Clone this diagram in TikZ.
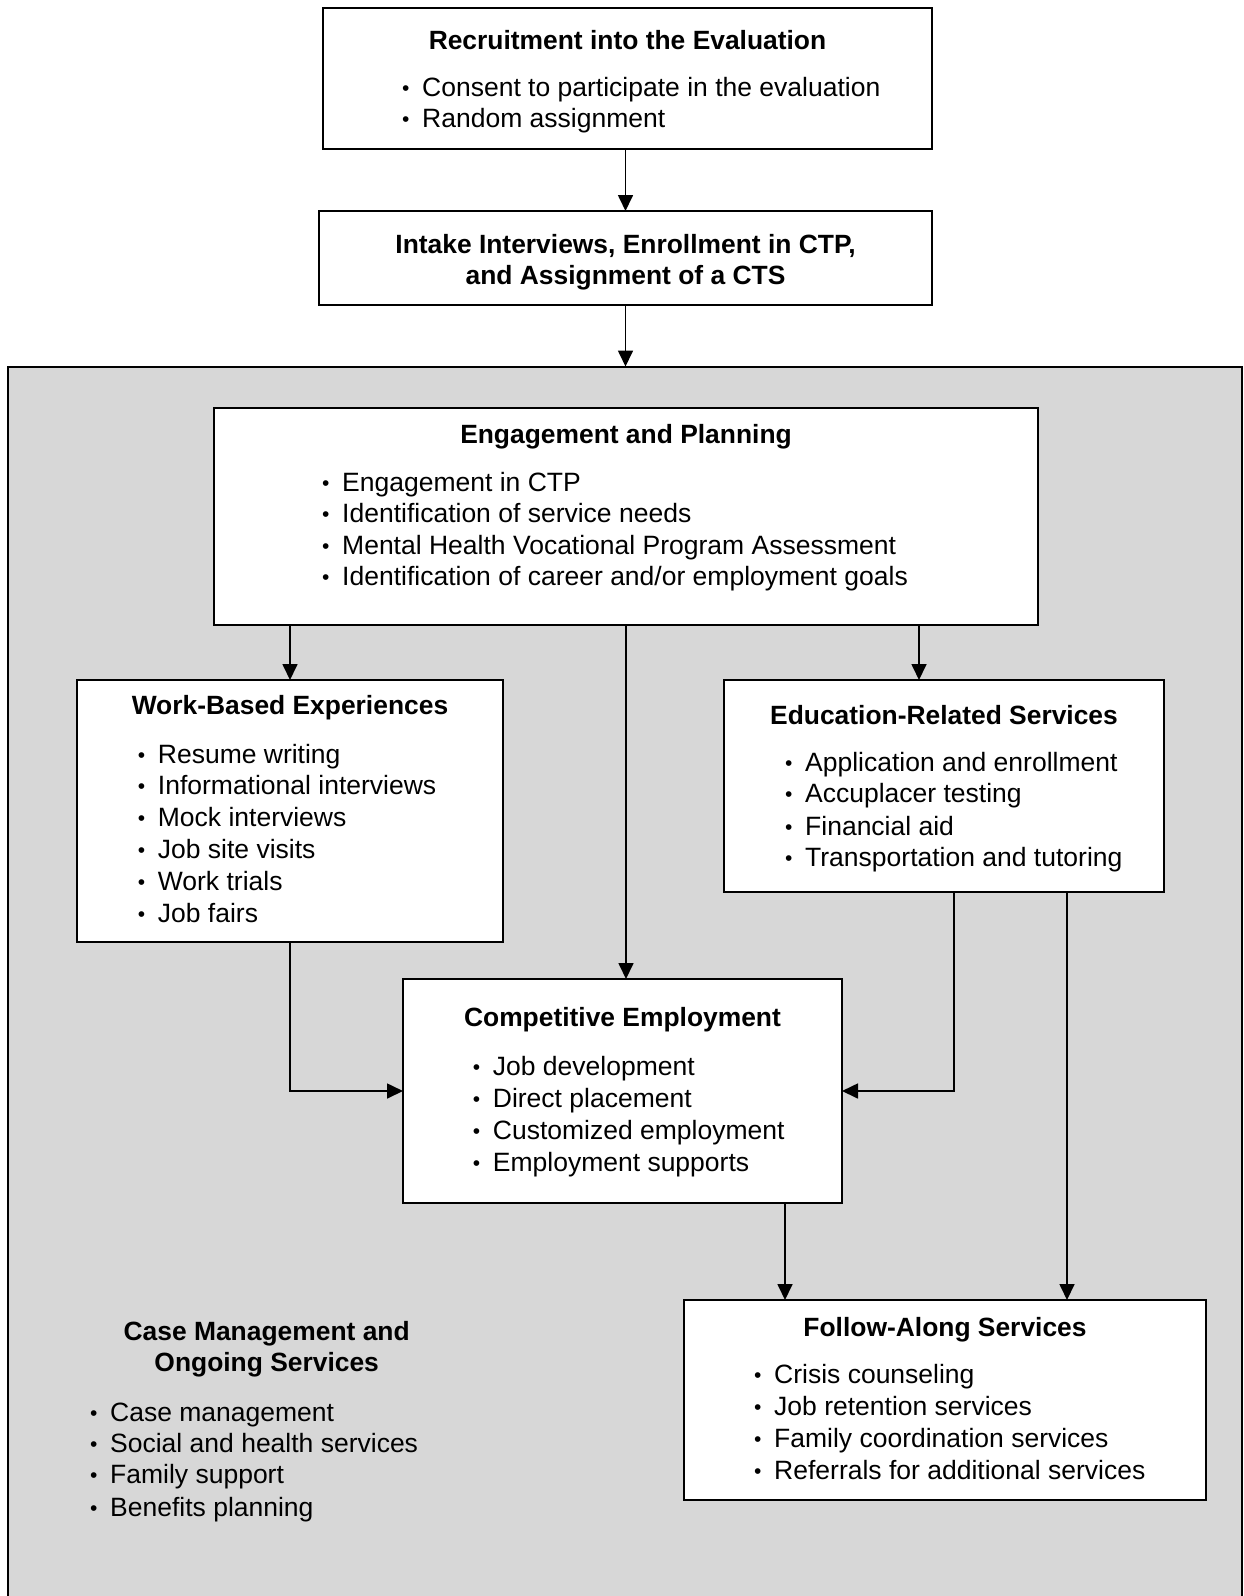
\documentclass[tikz,border=0pt]{standalone}
\usepackage{fontspec}
\setmainfont{Liberation Sans}
\usetikzlibrary{arrows.meta,calc}
\definecolor{framegray}{RGB}{215,215,215}
\newcommand{\itemline}[4]{\node[itm] (#1) at (#2,#3) {#4};\node[bul] (#1b) at ({#2-20},{#3-1}) {\textbullet};}
\begin{document}
\begin{tikzpicture}[x=1pt,y=-1pt,
  box/.style={draw=black,line width=2pt,fill=white,inner sep=0pt,outer sep=0pt},
  arr/.style={line width=1.7pt,-{Triangle[length=16pt,width=15pt]}},
  ttl/.style={font=\fontsize{26.4}{31}\selectfont\bfseries,anchor=base,inner sep=0pt},
  itm/.style={font=\fontsize{26.5}{31}\selectfont,anchor=base west,inner sep=0pt},
  bul/.style={font=\fontsize{21}{25}\selectfont,anchor=base west,inner sep=0pt},
]
\useasboundingbox (0,0) rectangle (1243,1596);
\clip (0,0) rectangle (1243,1596);
% outer frame
\node[box, fill=framegray, minimum width=1233.5pt, minimum height=1300pt, anchor=north west] (frame) at (8,366.5) {};
% boxes
\node[box, minimum width=609pt, minimum height=141pt] (rec) at (627.5,78.5) {};
\node[box, minimum width=613pt, minimum height=94pt] (intake) at (625.5,258) {};
\node[box, minimum width=824pt, minimum height=217pt] (eng) at (626,516.5) {};
\node[box, minimum width=426pt, minimum height=262pt] (wb) at (290,811) {};
\node[box, minimum width=440pt, minimum height=212pt] (edu) at (944,786) {};
\node[box, minimum width=439pt, minimum height=224pt] (comp) at (622.5,1091) {};
\node[box, minimum width=522pt, minimum height=200pt] (fol) at (945,1400) {};
% texts
\node[ttl] (rec-t) at (627.5,49) {Recruitment into the Evaluation};
\itemline{rec1}{422}{96}{Consent to participate in the evaluation}
\itemline{rec2}{422}{127}{Random assignment}
\node[ttl] (int-t1) at (625.5,253.5) {Intake Interviews, Enrollment in CTP,};
\node[ttl] (int-t2) at (625.5,284) {and Assignment of a CTS};
\node[ttl] (eng-t) at (626,443) {Engagement and Planning};
\itemline{eng1}{342}{491}{Engagement in CTP}
\itemline{eng2}{342}{522.5}{Identification of service needs}
\itemline{eng3}{342}{554}{Mental Health Vocational Program Assessment}
\itemline{eng4}{342}{585.7}{Identification of career and/or employment goals}
\node[ttl] (wb-t) at (290,714) {Work-Based Experiences};
\itemline{wb1}{157.7}{763}{Resume writing}
\itemline{wb2}{157.7}{794.8}{Informational interviews}
\itemline{wb3}{157.7}{826.6}{Mock interviews}
\itemline{wb4}{157.7}{858.4}{Job site visits}
\itemline{wb5}{157.7}{890.2}{Work trials}
\itemline{wb6}{157.7}{922}{Job fairs}
\node[ttl] (edu-t) at (944,724) {Education-Related Services};
\itemline{edu1}{805}{771}{Application and enrollment}
\itemline{edu2}{805}{802.5}{Accuplacer testing}
\itemline{edu3}{805}{835}{Financial aid}
\itemline{edu4}{805}{866.5}{Transportation and tutoring}
\node[ttl] (comp-t) at (622.5,1026.5) {Competitive Employment};
\itemline{comp1}{492.7}{1075.5}{Job development}
\itemline{comp2}{492.7}{1107.5}{Direct placement}
\itemline{comp3}{492.7}{1139.5}{Customized employment}
\itemline{comp4}{492.7}{1171}{Employment supports}
\node[ttl] (fol-t) at (945,1336) {Follow-Along Services};
\itemline{fol1}{774}{1383.5}{Crisis counseling}
\itemline{fol2}{774}{1415.5}{Job retention services}
\itemline{fol3}{774}{1447.5}{Family coordination services}
\itemline{fol4}{774}{1479.5}{Referrals for additional services}
\node[ttl] (case-t1) at (266.7,1340) {Case Management and};
\node[ttl] (case-t2) at (266.7,1371.5) {Ongoing Services};
\itemline{case1}{110}{1421.5}{Case management}
\itemline{case2}{110}{1452}{Social and health services}
\itemline{case3}{110}{1483.5}{Family support}
\itemline{case4}{110}{1516}{Benefits planning}
% connectors
\coordinate (e1) at ([xshift=-25pt]edu.north);
\coordinate (e2) at ([xshift=10pt]edu.south);
\coordinate (e3) at ([xshift=123pt]edu.south);
\coordinate (c1) at ([xshift=162.5pt]comp.south);
\draw[arr] (intake.north |- rec.south) -- (intake.north);
\draw[arr] (intake.south) -- (intake.south |- frame.north);
\draw[arr] (wb.north |- eng.south) -- (wb.north);
\draw[arr] (eng.south) -- (eng.south |- comp.north);
\draw[arr] (e1 |- eng.south) -- (e1);
\draw[arr] (wb.south) |- (comp.west);
\draw[arr] (e2) |- (comp.east);
\draw[arr] (e3) -- (e3 |- fol.north);
\draw[arr] (c1) -- (c1 |- fol.north);
\end{tikzpicture}
\end{document}
